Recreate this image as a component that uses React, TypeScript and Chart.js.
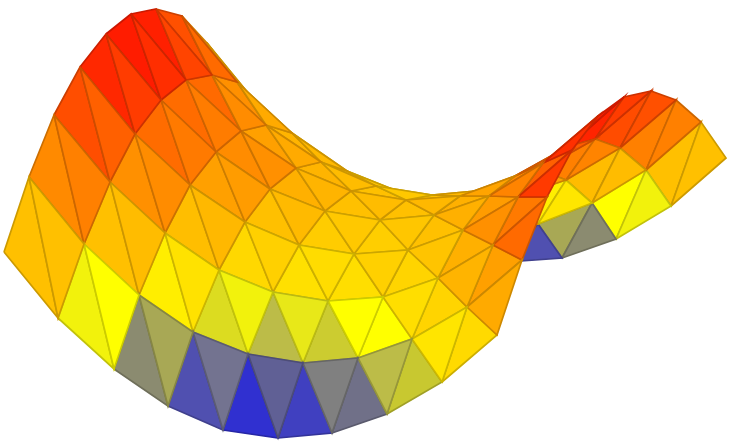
import { useEffect, useRef } from "react";
import { Chart, registerables } from "chart.js";

Chart.register(...registerables);

// Projected mesh nodes: one array per row of the grid.
const rowX: number[][] = [
  [4, 58, 114, 168, 223, 278, 332, 387, 442, 497],
  [29, 84, 139, 193, 248, 303, 358, 412, 467, 522],
  [54, 110, 165, 219, 273, 328, 383, 438, 493, 547],
  [80, 135, 190, 245, 299, 354, 408, 463, 518, 572],
  [106, 161, 216, 270, 325, 380, 434, 489, 543, 598],
  [131, 186, 241, 296, 351, 406, 460, 515, 569, 624],
  [156, 212, 266, 321, 376, 432, 486, 540, 595, 651],
  [182, 237, 292, 347, 402, 458, 512, 566, 620, 676],
  [207, 262, 317, 372, 427, 483, 538, 592, 646, 701],
  [233, 287, 343, 398, 452, 507, 562, 616, 671, 726],
];
const rowY: number[][] = [
  [252, 318, 369, 406, 430, 438, 433, 414, 382, 335],
  [177, 244, 295, 332, 354, 363, 358, 339, 307, 260],
  [115, 182, 233, 270, 292, 301, 297, 278, 245, 197],
  [67, 134, 185, 222, 245, 254, 250, 230, 197, 150],
  [34, 100, 152, 189, 211, 220, 215, 196, 163, 116],
  [14, 80, 131, 168, 191, 200, 196, 176, 146, 97],
  [9, 75, 125, 162, 186, 195, 190, 170, 139, 91],
  [16, 82, 133, 171, 193, 202, 198, 180, 148, 100],
  [43, 110, 161, 198, 220, 229, 224, 203, 170, 122],
  [76, 142, 193, 230, 254, 262, 258, 239, 206, 158],
];

// Two facet colours per grid cell, one list per strip between neighbouring rows.
const stripColors: string[][] = [
  ["#ffc000","#ffc000","#f2f20c","#ffff00","#8b8b70","#a8a855","#5050b0","#737390","#3030d0","#606095","#4040c0","#808080","#707088","#bcbc48","#c8c830","#ffe500","#ffda00","#ffaa00"],
  ["#ff8a00","#ff8000","#ffc000","#ffbc00","#ffee00","#ffe200","#dcdc20","#f2f20c","#bcbc48","#e8e818","#cccc30","#ffff00","#ffff00","#ffde00","#ffd400","#ffb400","#ffa000","#ff6a00"],
  ["#ff4e00","#ff6000","#ff9000","#ff8c00","#ffbe00","#ffb800","#ffd800","#ffd000","#ffe000","#ffdc00","#ffde00","#ffd000","#ffd400","#ffc400","#ffb000","#ff9000","#ff7a00","#ff3a00"],
  ["#ff2800","#ff3c00","#ff6c00","#ff7a00","#ffa000","#ff9c00","#ffc000","#ffba00","#ffcc00","#ffc800","#ffce00","#ffc600","#ffc000","#ffb000","#ff9c00","#ff8400","#ff6000","#ff3000"],
  ["#ff1c00","#ff2e00","#ff6c00","#ff7c00","#ff8c00","#ff9000","#ffb000","#ffb400","#ffc000","#ffbc00","#ffc000","#ffb800","#ffb000","#ffa400","#ff8c00","#ff7000","#ff5400","#ff2000"],
  ["#ff2000","#ff4400","#ff6a00","#ff8c00","#ffa000","#ffaa00","#ffb400","#ffbc00","#ffc000","#ffc800","#ffc000","#ffb800","#ffa800","#ffa000","#ff5000","#ff5c00","#ff2400","#ff3c00"],
  ["#ff5000","#ff6a00","#ff9000","#ffaa00","#ffb400","#ffb800","#ffc000","#ffc400","#ffcc00","#ffcc00","#ffc000","#ffb800","#ffac00","#ffa000","#ff8000","#ff8400","#ff4c00","#ff5000"],
  ["#ff9c00","#ffb000","#ffb800","#ffc000","#ffc800","#ffcc00","#ffd000","#ffd000","#ffd000","#ffd000","#ffc800","#ffc000","#ffee00","#ffe600","#ffbc00","#ffbc00","#ff8000","#ff8000"],
  ["#ffc000","#ffc800","#ffd000","#ffd800","#ffe000","#ffe000","#ffe000","#ffe000","#ffe000","#ffe000","#ffe000","#5050b0","#a8a855","#8b8b70","#ffff00","#f2f20c","#ffc000","#ffc000"],
];

const edgeShade = 0.8;

function edgeOf(hex: string) {
  const part = (at: number) => Math.round(parseInt(hex.slice(at, at + 2), 16) * edgeShade);
  return `rgb(${part(1)},${part(3)},${part(5)})`;
}

function facets() {
  const sets: any[] = [];
  stripColors.forEach((colors, k) => {
    for (let i = 0; i < 9; i++) {
      const node = (r: number, c: number) => ({ x: rowX[r][c], y: rowY[r][c] });
      const corners = [
        [node(k + 1, i), node(k, i + 1), node(k + 1, i + 1)],
        [node(k, i), node(k, i + 1), node(k + 1, i)],
      ];
      [1, 0].forEach((half, n) => {
        const tri = corners[n];
        const color = colors[i * 2 + half];
        sets.push({
          data: [...tri, tri[0]],
          backgroundColor: color,
          borderColor: edgeOf(color),
          borderWidth: 1.7,
          borderJoinStyle: "miter",
          pointRadius: 0,
          showLine: true,
          fill: "shape",
          tension: 0,
          clip: false,
        });
      });
    }
  });
  return sets;
}

export default function App() {
  const ref = useRef<HTMLCanvasElement>(null);
  useEffect(() => {
    const chart = new Chart(ref.current!, {
      type: "scatter",
      data: { datasets: facets() },
      options: {
        animation: false,
        responsive: false,
        layout: { padding: 0 },
        plugins: { legend: { display: false }, tooltip: { enabled: false } },
        scales: {
          x: { type: "linear", display: false, min: 0, max: 738 },
          y: { type: "linear", display: false, min: 0, max: 448, reverse: true },
        },
      },
    });
    return () => chart.destroy();
  }, []);
  return (
    <div style={{ position: "absolute", left: 0, top: 0, width: 738, height: 448 }}>
      <canvas ref={ref} width={738} height={448} style={{ display: "block" }} />
    </div>
  );
}
